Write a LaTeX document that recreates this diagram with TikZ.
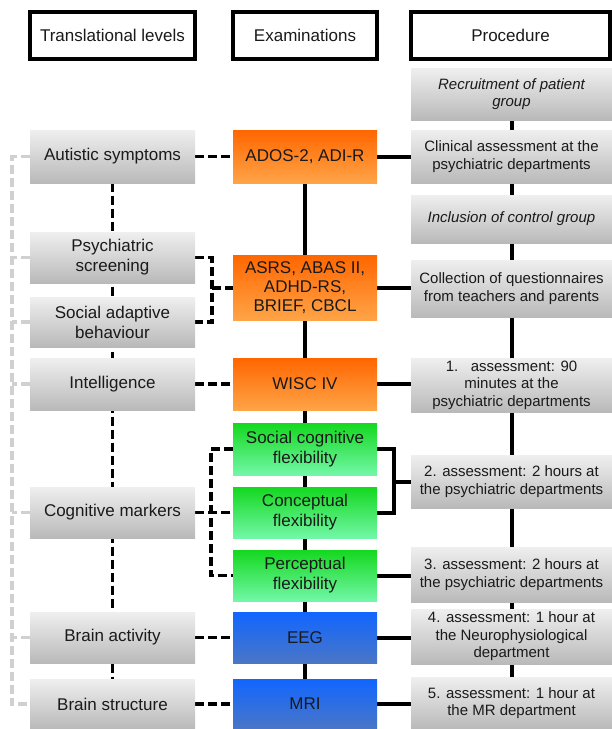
\documentclass[tikz,border=0pt]{standalone}
\usepackage{fontspec}
\setmainfont{Liberation Sans}
\usetikzlibrary{backgrounds}
\definecolor{gtop}{HTML}{EFEFEF}
\definecolor{gbot}{HTML}{B9B9B9}
\definecolor{otop}{HTML}{FF6600}
\definecolor{obot}{HTML}{FFA447}
\definecolor{grtop}{HTML}{14D81E}
\definecolor{grbot}{HTML}{72F7A8}
\definecolor{btop}{HTML}{1166FF}
\definecolor{bbot}{HTML}{4A76C6}
\definecolor{txt}{HTML}{1A1A1A}
\definecolor{lgry}{HTML}{D0D0D0}
\tikzset{
  base/.style={draw=none, inner sep=0pt, align=center, text=txt, anchor=center},
  bigf/.style={font=\fontsize{17}{20}\selectfont},
  smallf/.style={font=\fontsize{15}{17.6}\selectfont},
  hbox/.style={base, bigf, draw=black, line width=4pt, fill=white, minimum height=47pt},
  lbox/.style={base, bigf, minimum width=165pt, minimum height=51pt, top color=gtop, bottom color=gbot},
  obox/.style={base, bigf, minimum width=144pt, top color=otop, bottom color=obot},
  gbox/.style={base, bigf, minimum width=144pt, minimum height=52pt, top color=grtop, bottom color=grbot},
  bbox/.style={base, bigf, minimum width=144pt, minimum height=51pt, top color=btop, bottom color=bbot},
  rbox/.style={base, smallf, minimum width=201pt, top color=gtop, bottom color=gbot},
  blkdash/.style={draw=black, line width=3.5pt, dash pattern=on 9pt off 4pt},
  grydash/.style={draw=lgry, line width=3.5pt, dash pattern=on 9pt off 4pt},
  solidl/.style={draw=black, line width=4pt},
}
\begin{document}
\begin{tikzpicture}[x=1pt,y=-1pt]
\useasboundingbox (0,0) rectangle (612,729);
% headers
\node[hbox, minimum width=165pt] (h1) at (112.5,35.5) {Translational levels};
\node[hbox, minimum width=144pt] (h2) at (305,35.5) {Examinations};
\node[hbox, minimum width=199pt] (h3) at (510.5,35.5) {Procedure};
% left column
\node[lbox, minimum height=53pt] (aut) at (112.5,156.5) {Autistic symptoms};
\node[lbox] (psy) at (112.5,257.5) {Psychiatric\\screening};
\node[lbox, minimum height=50pt] (soc) at (112.5,322) {Social adaptive\\behaviour};
\node[lbox, minimum height=52pt] (int) at (112.5,384) {Intelligence};
\node[lbox] (cm) at (112.5,512.5) {Cognitive markers};
\node[lbox] (bact) at (112.5,637.5) {Brain activity};
\node[lbox, minimum height=50pt] (bst) at (112.5,704) {Brain structure};
% middle column
\node[obox, minimum height=53pt] (ados) at (305,156.5) {ADOS-2, ADI-R};
\node[obox, minimum height=65pt, font=\fontsize{17}{19}\selectfont] (asrs) at (305,287.5) {ASRS, ABAS II,\\ADHD-RS,\\BRIEF, CBCL};
\node[obox, minimum height=52pt] (wisc) at (305,384) {WISC IV};
\node[gbox] (scf) at (305,449) {Social cognitive\\flexibility};
\node[gbox, minimum height=51pt] (cf) at (305,512.5) {Conceptual\\flexibility};
\node[gbox, minimum height=51pt] (pf) at (305,575.5) {Perceptual\\flexibility};
\node[bbox] (eeg) at (305,637.5) {EEG};
\node[bbox, minimum height=50pt] (mri) at (305,704) {MRI};
% right column
\node[rbox, minimum height=52pt] (rec) at (511.5,94) {\itshape Recruitment of patient\\\itshape group};
\node[rbox, minimum height=53pt] (cli) at (511.5,156.5) {Clinical assessment at the\\psychiatric departments};
\node[rbox, minimum height=48pt] (inc) at (511.5,219) {\itshape Inclusion of control group};
\node[rbox, minimum height=57pt] (col) at (511.5,288.5) {Collection of questionnaires\\from teachers and parents};
\node[rbox, minimum height=54pt] (a1) at (511.5,385) {1.\ \ \ assessment: 90\\minutes at the\\psychiatric departments};
\node[rbox, minimum height=53pt] (a2) at (511.5,481.5) {2. assessment: 2 hours at\\the psychiatric departments};
\node[rbox, minimum height=55pt] (a3) at (511.5,574.5) {3. assessment: 2 hours at\\the psychiatric departments};
\node[rbox, minimum height=55pt] (a4) at (511.5,636.5) {4. assessment: 1 hour at\\the Neurophysiological\\department};
\node[rbox, minimum height=52pt] (a5) at (511.5,703) {5. assessment: 1 hour at\\the MR department};
\coordinate (b1) at (212,288);
\coordinate (b3) at (394,482);
\begin{scope}[on background layer]
  % light grey outer line
  \draw[grydash] (aut.west) -- ++(-18,0) |- (bst.west);
  \foreach \n in {psy,soc,int,cm,bact} \draw[grydash] (\n.west) -- ++(-18,0);
  % vertical spines
  \draw[blkdash] (aut.center) -- (bst.center);
  \draw[solidl] (ados.center) -- (mri.center);
  \draw[solidl] (rec.center) -- (a5.center);
  % left to middle
  \draw[blkdash] (aut.east) -- (aut.east -| ados.west);
  \draw[blkdash] (int.east) -- (int.east -| wisc.west);
  \draw[blkdash] (bact.east) -- (bact.east -| eeg.west);
  \draw[blkdash] (bst.east) -- (bst.east -| mri.west);
  \draw[blkdash] (psy.east) -- ++(17,0) |- (soc.east);
  \draw[blkdash] (b1) -- (b1 -| asrs.west);
  \draw[blkdash] (scf.west) -- ++(-22,0) |- (pf.west);
  \draw[blkdash] (cm.east) -- (cm.east -| cf.west);
  % middle to right
  \draw[solidl] (ados.east) -- (ados.east -| cli.west);
  \draw[solidl] (asrs.east) -- (asrs.east -| col.west);
  \draw[solidl] (wisc.east) -- (wisc.east -| a1.west);
  \draw[solidl] (scf.east) -- ++(17,0) |- (cf.east);
  \draw[solidl] (b3) -- (b3 -| a2.west);
  \draw[solidl] (pf.east) -- (pf.east -| a3.west);
  \draw[solidl] (eeg.east) -- (eeg.east -| a4.west);
  \draw[solidl] (mri.east) -- (mri.east -| a5.west);
\end{scope}
\end{tikzpicture}
\end{document}
